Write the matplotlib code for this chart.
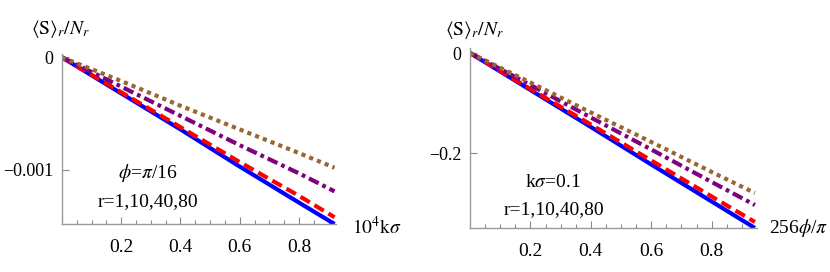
import matplotlib
matplotlib.use("Agg")
import matplotlib.pyplot as plt

plt.rcParams["font.family"] = ["Liberation Serif", "DejaVu Serif"]
plt.rcParams["mathtext.fontset"] = "stix"

# left panel: phi = pi/16, x = 10^4 k sigma
x_left = [0, 0.2, 0.4, 0.6, 0.8, 0.92]
left_r1 = [0, -0.32e-3, -0.64e-3, -0.97e-3, -1.29e-3, -1.48e-3]
left_r10 = [0, -0.31e-3, -0.62e-3, -0.93e-3, -1.23e-3, -1.42e-3]
left_r40 = [0, -0.26e-3, -0.52e-3, -0.78e-3, -1.03e-3, -1.19e-3]
left_r80 = [0, -0.21e-3, -0.43e-3, -0.64e-3, -0.85e-3, -0.98e-3]

# right panel: k sigma = 0.1, x = 256 phi / pi
x_right = [0, 0.2, 0.4, 0.6, 0.8, 0.943]
right_r1 = [0, -0.074, -0.148, -0.223, -0.297, -0.350]
right_r10 = [0, -0.072, -0.143, -0.215, -0.287, -0.338]
right_r40 = [0, -0.064, -0.129, -0.193, -0.258, -0.304]
right_r80 = [0, -0.059, -0.119, -0.178, -0.238, -0.280]

left_yticks = [0, -0.001]
left_yticklabels = ["0", "\u22120.001"]
right_yticks = [0, -0.2]
right_yticklabels = ["0", "\u22120.2"]
xticks = [0.2, 0.4, 0.6, 0.8]
xticklabels = ["0.2", "0.4", "0.6", "0.8"]

styles = [
    dict(color=(0, 0, 1), ls="-"),
    dict(color=(1, 0, 0), ls=(0, (2.6, 1.3))),
    dict(color=(0.5, 0, 0.5), ls=(0, (2.6, 1.0, 0.9, 1.0))),
    dict(color=(0.6, 0.4, 0.2), ls=(0, (1.0, 1.0))),
]

fig = plt.figure(figsize=(8.3, 2.72), dpi=100)
H = 272.0
W = 830.0


def setup(ax, xmax, ylim, yticks, yticklabels):
    ax.set_xlim(0, xmax)
    ax.set_ylim(*ylim)
    for s in ["top", "right"]:
        ax.spines[s].set_visible(False)
    for s in ["left", "bottom"]:
        ax.spines[s].set_color("#999999")
        ax.spines[s].set_linewidth(1.0)
    ax.set_xticks(xticks)
    ax.set_xticklabels(xticklabels)
    ax.set_xticks([i * 0.05 for i in range(1, int(xmax / 0.05) + 1)], minor=True)
    ax.set_yticks(yticks)
    ax.set_yticklabels(yticklabels)
    ax.tick_params(axis="x", which="major", direction="in", length=5, width=0.8,
                   color="#888888", labelsize=14, pad=11)
    ax.tick_params(axis="x", which="minor", direction="in", length=3, width=0.8,
                   color="#888888")
    ax.tick_params(axis="y", which="major", direction="in", length=5, width=0.8,
                   color="#888888", labelsize=13, pad=6)


# left
ax1 = fig.add_axes([62 / W, 1 - 224 / H, (336 - 62) / W, (224 - 54) / H])
for y, st in zip([left_r1, left_r10, left_r40, left_r80], styles):
    ax1.plot(x_left, y, lw=3, solid_capstyle="butt", dash_capstyle="butt", **st)
setup(ax1, 0.925, (-0.00148, 0.00003), left_yticks, left_yticklabels)
ax1.text(0.29, -0.00103, r"$\phi$=$\pi$/16", fontsize=14, ha="center", va="center")
ax1.text(0.29, -0.00128, "r=1,10,40,80", fontsize=14, ha="center", va="center")
fig.text(61 / W, 1 - 29 / H, r"$\langle \mathrm{S}\rangle_r/N_r$", fontsize=14,
         ha="center", va="center")
fig.text(352 / W, 1 - 227 / H, r"$10^4\mathrm{k}\sigma$", fontsize=14,
         ha="left", va="center")

# right
ax2 = fig.add_axes([470 / W, 1 - 228 / H, (757 - 470) / W, (228 - 48) / H])
for y, st in zip([right_r1, right_r10, right_r40, right_r80], styles):
    ax2.plot(x_right, y, lw=3, solid_capstyle="butt", dash_capstyle="butt", **st)
setup(ax2, 0.95, (-0.35, 0.01), right_yticks, right_yticklabels)
ax2.text(0.275, -0.258, r"k$\sigma$=0.1", fontsize=14, ha="center", va="center")
ax2.text(0.277, -0.313, "r=1,10,40,80", fontsize=14, ha="center", va="center")
fig.text(475 / W, 1 - 30 / H, r"$\langle \mathrm{S}\rangle_r/N_r$", fontsize=14,
         ha="center", va="center")
fig.text(769 / W, 1 - 228 / H, r"256$\phi$/$\pi$", fontsize=14,
         ha="left", va="center")

fig.savefig("out.png", dpi=100)
